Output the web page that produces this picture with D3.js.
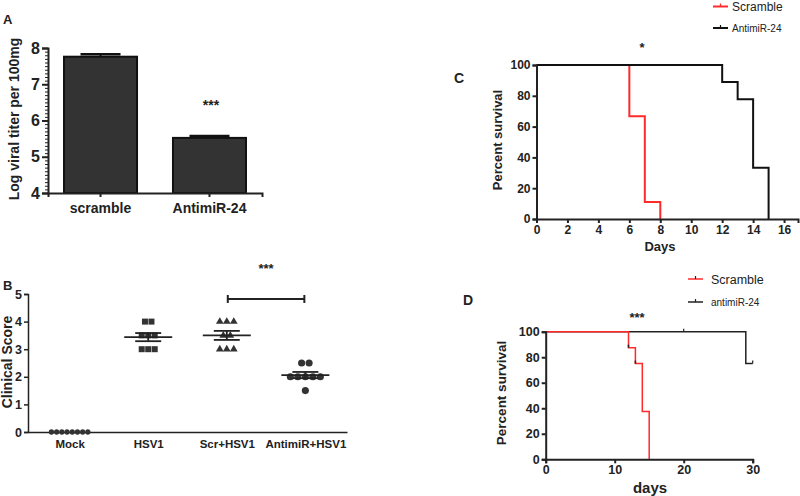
<!DOCTYPE html>
<html><head><meta charset="utf-8">
<script src="https://cdn.jsdelivr.net/npm/d3@7"></script>
<style>
body{margin:0;background:#fff;}
svg{display:block;font-family:"Liberation Sans",Arial,sans-serif;}
</style></head>
<body><svg id="c" width="800" height="496"></svg>
<script>
// ---------- DATA ----------
// Panel A
const aCategories = ["scramble", "AntimiR-24"];
const aMeans = [7.76, 5.52];
const aSem = [0.07, 0.05];
const aTicks = [4, 5, 6, 7, 8];
// Panel B
const bCategories = ["Mock", "HSV1", "Scr+HSV1", "AntimiR+HSV1"];
const bMock = [0, 0, 0, 0, 0, 0, 0, 0];
const bHSV1 = [4, 4, 3.5, 3.5, 3.5, 3, 3, 3];
const bScr = [4, 4, 4, 3.5, 3.5, 3, 3, 3];
const bAnti = [2.5, 2.5, 2, 2, 2, 2, 2, 1.5];
const bTicks = [0, 1, 2, 3, 4, 5];
// Panel C (survival)
const cScrambleDays = [0, 6, 7, 8];
const cScrambleSurv = [100, 66.7, 11.1, 0];
const cAntiDays = [0, 12, 13, 14, 15];
const cAntiSurv = [100, 88.9, 77.8, 33.3, 0];
const cXTicks = [0, 2, 4, 6, 8, 10, 12, 14, 16];
const survTicks = [0, 20, 40, 60, 80, 100];
// Panel D (survival)
const dScrambleDays = [0, 12, 13, 14, 15];
const dScrambleSurv = [100, 87.5, 75, 37.5, 0];
const dAntiDays = [0, 29, 30];
const dAntiSurv = [100, 75, 75];
const dAntiCensorDays = [20, 30];
const dAntiCensorSurv = [100, 75];
const dScrCensorDays = [12, 13];
const dScrCensorSurv = [87.5, 75];
const dXTicks = [0, 10, 20, 30];

// ---------- DRAW ----------
const svg = d3.select("#c");
const INK = "#222";
const RED = "#ff2a2a";

function styleAxis(g, sw, fs) {
  g.select(".domain").attr("stroke", INK).attr("stroke-width", sw);
  g.selectAll(".tick line").attr("stroke", INK).attr("stroke-width", sw);
  g.selectAll(".tick text").attr("fill", INK).attr("font-weight", "bold")
    .attr("font-size", fs).attr("font-family", "Liberation Sans, Arial, sans-serif");
}
function txt(x, y, s, fs, opts = {}) {
  return svg.append("text").attr("x", x).attr("y", y).text(s)
    .attr("font-size", fs).attr("fill", INK)
    .attr("font-weight", opts.weight || "bold")
    .attr("text-anchor", opts.anchor || "middle")
    .attr("transform", opts.rotate ? `rotate(-90,${x},${y})` : null);
}

// ===== Panel A =====
{
  const y = d3.scaleLinear().domain([4, 8]).range([193, 48]);
  const x = d3.scaleBand().domain(aCategories).range([48, 262]).paddingInner(0.33).paddingOuter(0.147);
  const g = svg.append("g");
  const minor = d3.range(4, 8.0001, 0.1);
  g.append("g").attr("transform", "translate(48,0)")
    .call(d3.axisLeft(y).tickValues(minor).tickSize(3).tickFormat(""))
    .call(a => { a.select(".domain").remove(); a.selectAll("line").attr("stroke", INK).attr("stroke-width", 1); });
  g.selectAll("rect.bar").data(aCategories).enter().append("rect")
    .attr("x", d => x(d)).attr("width", x.bandwidth())
    .attr("y", (d, i) => y(aMeans[i])).attr("height", (d, i) => y(4) - y(aMeans[i]))
    .attr("fill", "#333").attr("stroke", "#111").attr("stroke-width", 2);
  aCategories.forEach((c, i) => {
    const cx = x(c) + x.bandwidth() / 2;
    g.append("line").attr("x1", cx).attr("x2", cx).attr("y1", y(aMeans[i])).attr("y2", y(aMeans[i] + aSem[i]))
      .attr("stroke", "#111").attr("stroke-width", 2);
    g.append("line").attr("x1", cx - 20).attr("x2", cx + 20).attr("y1", y(aMeans[i] + aSem[i])).attr("y2", y(aMeans[i] + aSem[i]))
      .attr("stroke", "#111").attr("stroke-width", 2.5);
  });
  g.append("g").attr("transform", "translate(48,0)")
    .call(d3.axisLeft(y).tickValues(aTicks).tickSize(6).tickPadding(2).tickFormat(d3.format("d")))
    .call(a => styleAxis(a, 2, 16));
  g.append("g").attr("transform", "translate(0,193)")
    .call(d3.axisBottom(x).tickSize(4).tickPadding(6))
    .call(a => styleAxis(a, 2, 14));
  txt(211, 110, "***", 14, {});
  txt(19, 119, "Log viral titer per 100mg", 14, { rotate: true });
  txt(3, 24, "A", 13, { anchor: "start" });
}

// ===== Panel B =====
{
  const y = d3.scaleLinear().domain([0, 5]).range([432, 294]);
  const x = d3.scalePoint().domain(bCategories).range([28, 347]).padding(0.53);
  const g = svg.append("g");
  g.append("g").attr("transform", "translate(28,0)")
    .call(d3.axisLeft(y).tickValues(bTicks).tickSize(4).tickPadding(2).tickFormat(d3.format("d")))
    .call(a => styleAxis(a, 1.5, 12.5));
  g.append("g").attr("transform", "translate(0,432)")
    .call(d3.axisBottom(x).tickSize(0).tickPadding(8))
    .call(a => styleAxis(a, 1.5, 11.5));
  const groups = [bMock, bHSV1, bScr, bAnti];
  const shapes = [d3.symbolCircle, d3.symbolSquare, d3.symbolTriangle, d3.symbolCircle];
  const sizes = [22, 36, 26, 40];
  const spacing = [5.2, 6.5, 7, 7.5];
  groups.forEach((vals, gi) => {
    const cx = x(bCategories[gi]);
    const byVal = d3.group(vals, v => v);
    byVal.forEach((arr, v) => {
      const n = arr.length;
      arr.forEach((_, k) => {
        const px = cx + (k - (n - 1) / 2) * spacing[gi];
        g.append("path").attr("d", d3.symbol().type(shapes[gi]).size(sizes[gi])())
          .attr("transform", `translate(${px},${y(v)})`).attr("fill", "#333");
      });
    });
    if (gi > 0) {
      const m = d3.mean(vals);
      const sem = d3.deviation(vals) / Math.sqrt(vals.length);
      g.append("line").attr("x1", cx - 24).attr("x2", cx + 24).attr("y1", y(m)).attr("y2", y(m))
        .attr("stroke", INK).attr("stroke-width", 1.8);
      [m - sem, m + sem].forEach(v => g.append("line").attr("x1", cx - 13).attr("x2", cx + 13)
        .attr("y1", y(v)).attr("y2", y(v)).attr("stroke", INK).attr("stroke-width", 1.8));
      g.append("line").attr("x1", cx).attr("x2", cx).attr("y1", y(m - sem)).attr("y2", y(m + sem))
        .attr("stroke", INK).attr("stroke-width", 1.8);
    }
  });
  const x1 = x(bCategories[2]) + 1, x2 = x(bCategories[3]) - 1, yb = y(4.82);
  g.append("line").attr("x1", x1).attr("x2", x2).attr("y1", yb).attr("y2", yb).attr("stroke", INK).attr("stroke-width", 2);
  [x1, x2].forEach(xx => g.append("line").attr("x1", xx).attr("x2", xx).attr("y1", yb - 4).attr("y2", yb + 4).attr("stroke", INK).attr("stroke-width", 2));
  txt(266, 273, "***", 13, {});
  txt(12, 362, "Clinical Score", 14, { rotate: true });
  txt(3, 290, "B", 13, { anchor: "start" });
}

// ===== Survival helper =====
function survival(xDom, xRange, yRange, days, surv, color, sw) {
  const x = d3.scaleLinear().domain(xDom).range(xRange);
  const y = d3.scaleLinear().domain([0, 100]).range(yRange);
  const pts = days.map((d, i) => [d, surv[i]]);
  svg.append("path").datum(pts)
    .attr("d", d3.line().x(d => x(d[0])).y(d => y(d[1])).curve(d3.curveStepAfter))
    .attr("fill", "none").attr("stroke", color).attr("stroke-width", sw);
}

// ===== Panel C =====
{
  const x = d3.scaleLinear().domain([0, 16.9]).range([536.5, 798]);
  const y = d3.scaleLinear().domain([0, 100]).range([219, 65]);
  survival([0, 16.9], [536.5, 798], [219, 65], cScrambleDays, cScrambleSurv, RED, 2);
  survival([0, 16.9], [536.5, 798], [219, 65], cAntiDays, cAntiSurv, "#111", 2);
  svg.append("g").attr("transform", "translate(536.5,0)")
    .call(d3.axisLeft(y).tickValues(survTicks).tickSize(4).tickPadding(2))
    .call(a => styleAxis(a, 2, 12));
  svg.append("g").attr("transform", "translate(0,219)")
    .call(d3.axisBottom(x).tickValues(cXTicks).tickSize(4).tickPadding(2))
    .call(a => styleAxis(a, 2, 12));
  txt(660, 251, "Days", 13, {});
  txt(502, 140, "Percent survival", 13, { rotate: true });
  txt(454, 83, "C", 14, { anchor: "start" });
  txt(642, 52, "*", 13, {});
  [[6.5, RED, "Scramble", 12], [28, "#111", "AntimiR-24", 10]].forEach(([ly, col, lab, fs]) => {
    svg.append("line").attr("x1", 713).attr("x2", 728).attr("y1", ly).attr("y2", ly).attr("stroke", col).attr("stroke-width", 2);
    svg.append("line").attr("x1", 720.5).attr("x2", 720.5).attr("y1", ly - 3).attr("y2", ly).attr("stroke", col).attr("stroke-width", 1.2);
    txt(732, ly + fs * 0.36, lab, fs, { anchor: "start", weight: "normal" });
  });
}

// ===== Panel D =====
{
  const xr = [545.7, 752.7], yr = [459.3, 331.7];
  const x = d3.scaleLinear().domain([0, 30]).range(xr);
  const y = d3.scaleLinear().domain([0, 100]).range(yr);
  survival([0, 30], xr, yr, dAntiDays, dAntiSurv, "#222", 1.5);
  survival([0, 30], xr, yr, dScrambleDays, dScrambleSurv, RED, 1.5);
  dAntiCensorDays.forEach((d, i) => svg.append("line").attr("x1", x(d)).attr("x2", x(d))
    .attr("y1", y(dAntiCensorSurv[i]) - 3).attr("y2", y(dAntiCensorSurv[i])).attr("stroke", "#222").attr("stroke-width", 1.2));
  dScrCensorDays.forEach((d, i) => svg.append("line").attr("x1", x(d)).attr("x2", x(d))
    .attr("y1", y(dScrCensorSurv[i]) - 3).attr("y2", y(dScrCensorSurv[i])).attr("stroke", "#222").attr("stroke-width", 1.5));
  svg.append("g").attr("transform", `translate(${xr[0]},0)`)
    .call(d3.axisLeft(y).tickValues(survTicks).tickSize(4).tickPadding(2))
    .call(a => styleAxis(a, 2, 12.5));
  svg.append("g").attr("transform", `translate(0,${yr[0]})`)
    .call(d3.axisBottom(x).tickValues(dXTicks).tickSize(4).tickPadding(2))
    .call(a => styleAxis(a, 2, 12.5));
  txt(650, 493, "days", 15, {});
  txt(506, 393, "Percent survival", 13.5, { rotate: true });
  txt(463, 305, "D", 14, { anchor: "start" });
  txt(637, 322, "***", 13, {});
  [[279, RED, "Scramble", 12.5], [302, "#222", "antimiR-24", 10]].forEach(([ly, col, lab, fs]) => {
    svg.append("line").attr("x1", 688).attr("x2", 703).attr("y1", ly).attr("y2", ly).attr("stroke", col).attr("stroke-width", 1.5);
    svg.append("line").attr("x1", 695.5).attr("x2", 695.5).attr("y1", ly - 3).attr("y2", ly).attr("stroke", "#222").attr("stroke-width", 1.2);
    txt(711, ly + fs * 0.36, lab, fs, { anchor: "start", weight: "normal" });
  });
}
</script></body></html>
